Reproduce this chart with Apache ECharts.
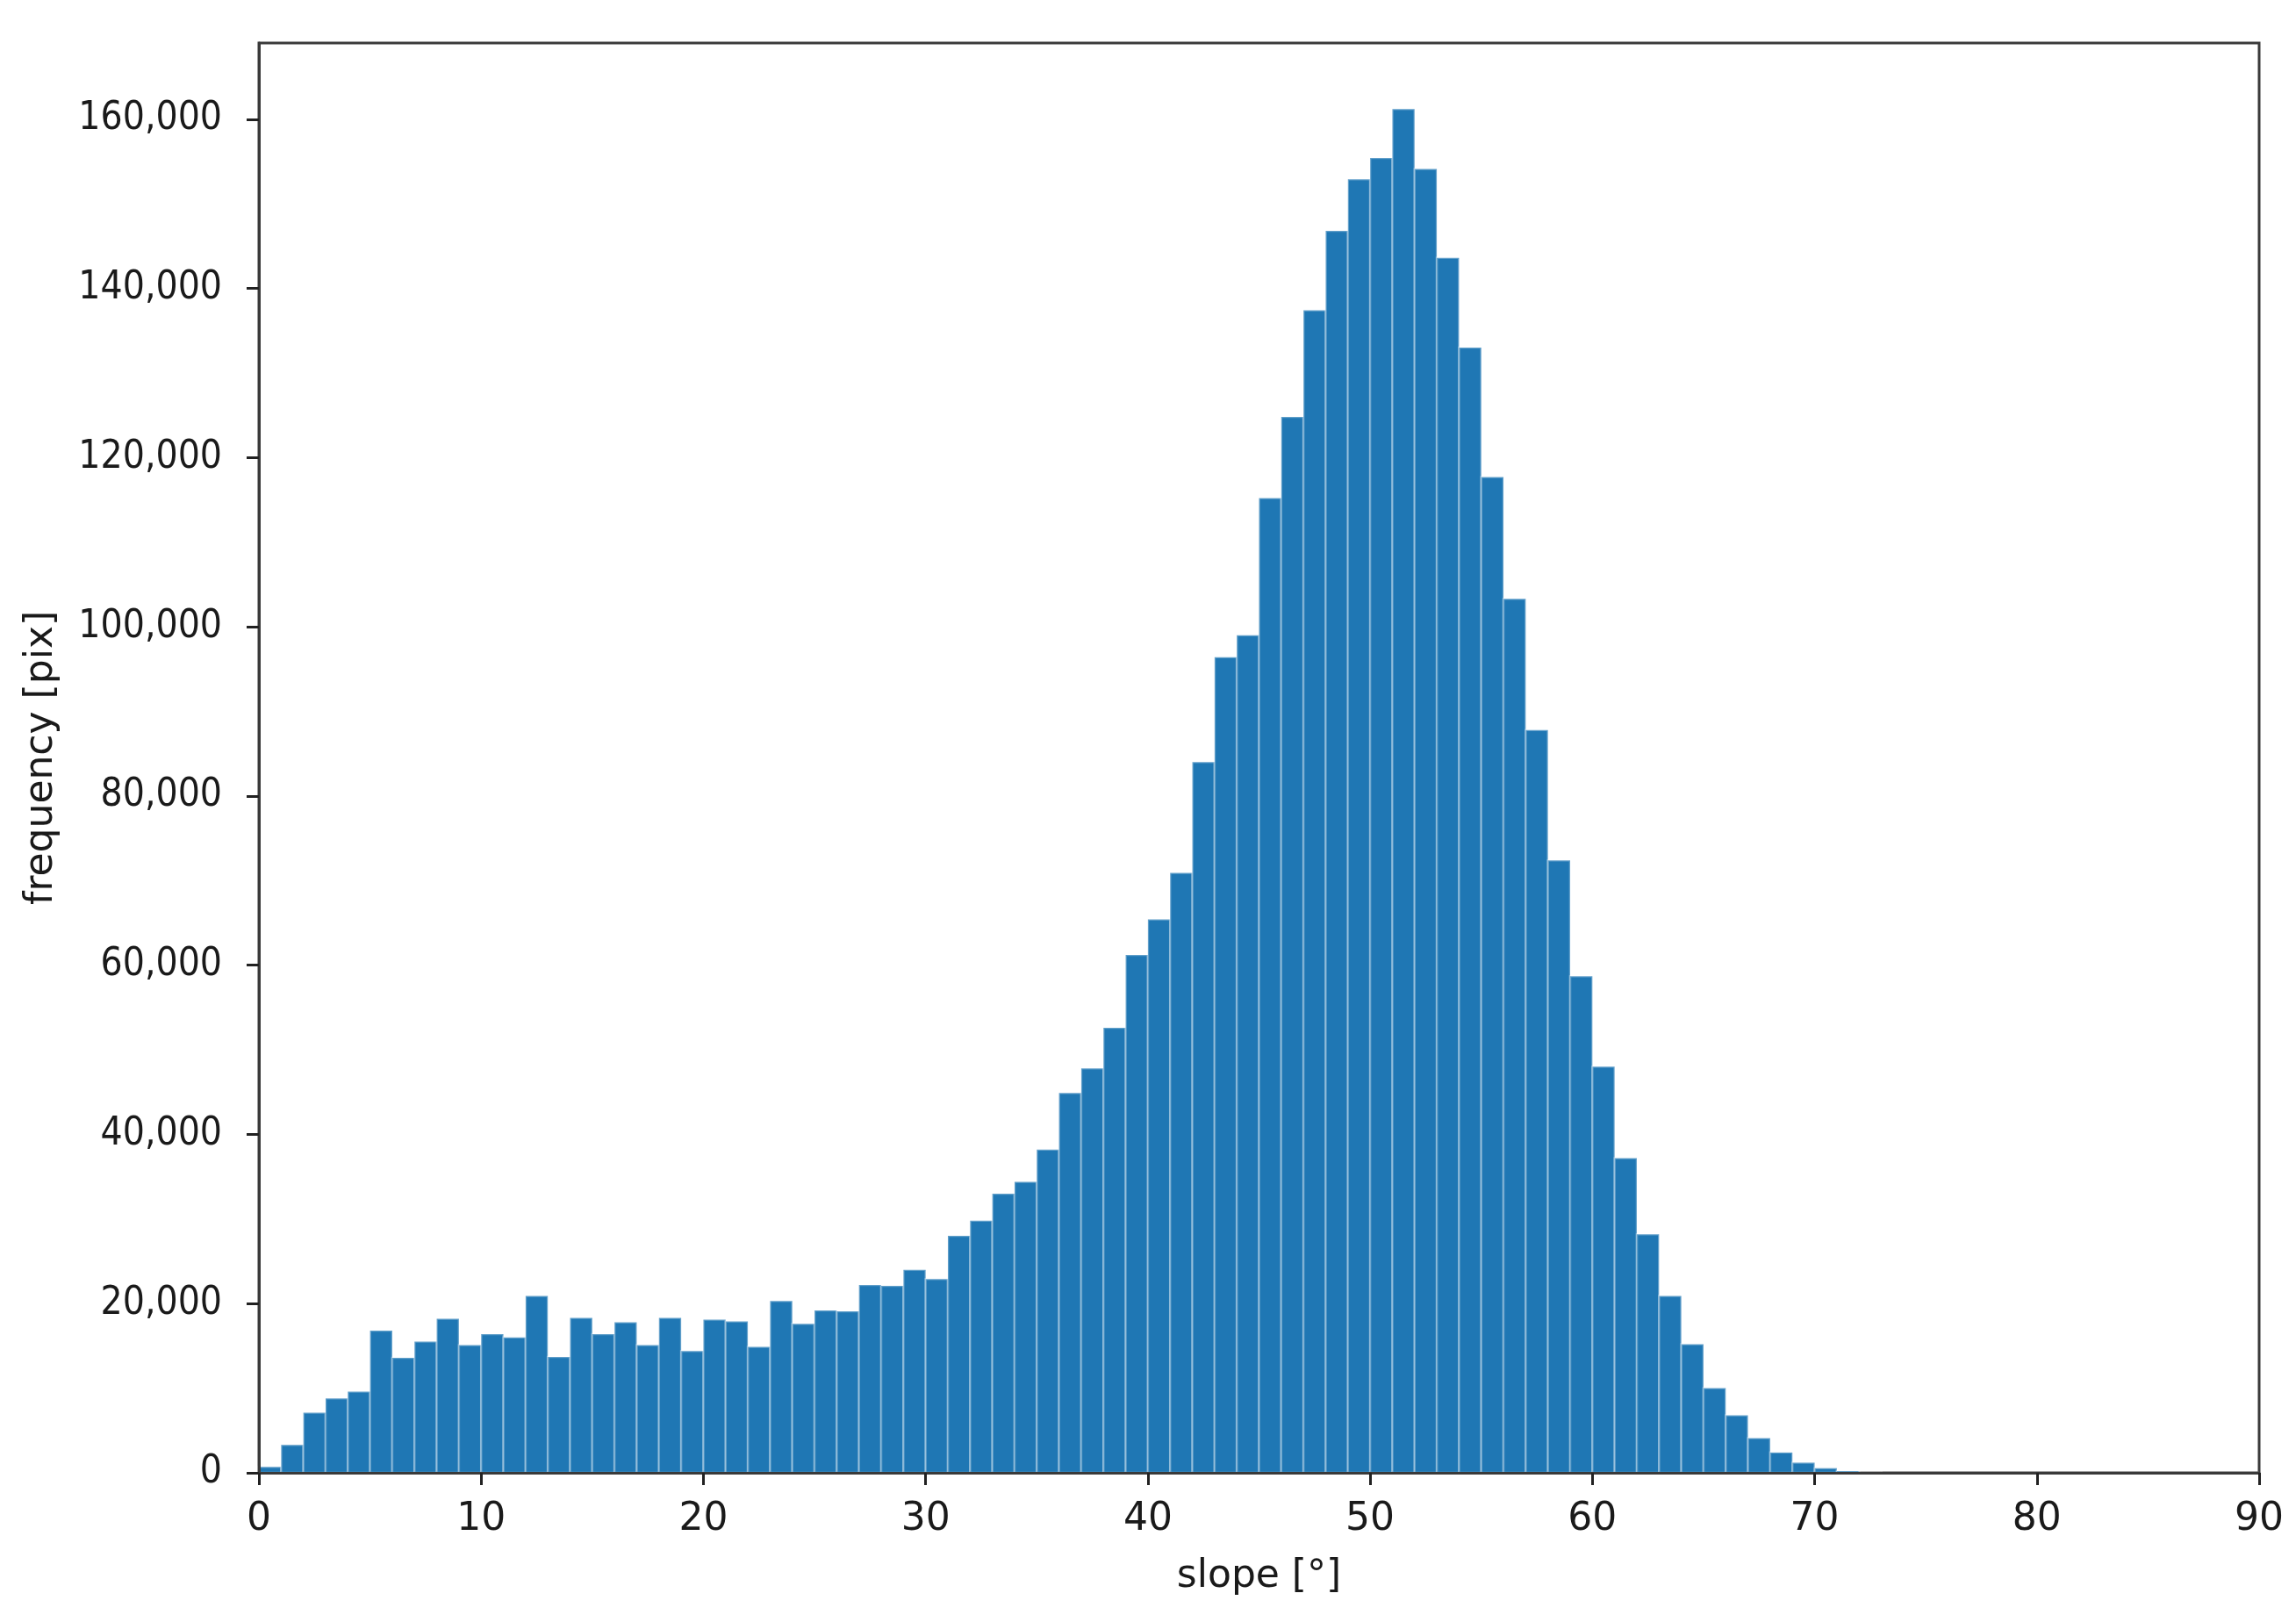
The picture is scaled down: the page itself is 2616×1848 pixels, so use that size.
<!DOCTYPE html>
<html>
<head>
<meta charset="utf-8">
<title>slope histogram</title>
<script src="https://cdn.jsdelivr.net/npm/echarts@6/dist/echarts.min.js"></script>
<style>
  html, body { margin: 0; padding: 0; background: #fff; }
  #main { width: 2616px; height: 1848px; }
</style>
</head>
<body>
<div id="main"></div>
<script>
// histogram of slope, 1 degree bins starting at 0
var binWidth = 1;
var counts = [
  700, 3300, 7100, 8800, 9600, 16800, 13600, 15500, 18200, 15100,
  16400, 16000, 20900, 13700, 18300, 16400, 17800, 15100, 18300, 14400,
  18100, 17900, 14900, 20300, 17600, 19200, 19100, 22200, 22100, 24000,
  22900, 28000, 29800, 33000, 34400, 38200, 44900, 47800, 52600, 61200,
  65400, 70900, 84000, 96400, 99000, 115200, 124800, 137400, 146800, 152900,
  155400, 161200, 154100, 143600, 133000, 117700, 103300, 87800, 72400, 58700,
  48000, 37200, 28200, 20900, 15200, 10000, 6800, 4100, 2400, 1200,
  550, 200, 60, 0, 0, 0, 0, 0, 0, 0,
  0, 0, 0, 0, 0, 0, 0, 0, 0, 0
];
var xTicks = [0, 10, 20, 30, 40, 50, 60, 70, 80, 90];
var yTicks = [0, 20000, 40000, 60000, 80000, 100000, 120000, 140000, 160000];

var chart = echarts.init(document.getElementById('main'), null, { renderer: 'canvas' });

var barData = counts.map(function (c, i) {
  return [i * binWidth, (i + 1) * binWidth, c];
});

function renderBar(params, api) {
  var p0 = api.coord([api.value(0), 0]);
  var p1 = api.coord([api.value(1), api.value(2)]);
  return {
    type: 'rect',
    shape: { x: p0[0], y: p1[1], width: p1[0] - p0[0], height: p0[1] - p1[1] },
    style: { fill: '#1f77b4', stroke: 'rgba(255,255,255,0.3)', lineWidth: 2.5 }
  };
}

var textColor = '#1a1a1a';
var frameColor = '#3a3a3a';

var option = {
  backgroundColor: '#fff',
  animation: false,
  grid: {
    left: 295, right: 42, top: 49, bottom: 170,
    show: true, borderColor: frameColor, borderWidth: 3, backgroundColor: 'transparent'
  },
  xAxis: {
    type: 'value',
    min: 0, max: 90, interval: 10,
    z: 10,
    name: 'slope [°]',
    nameLocation: 'middle',
    nameGap: 97,
    nameTextStyle: { fontFamily: 'DejaVu Sans', fontSize: 44, color: textColor },
    axisLine: { show: true, onZero: false, lineStyle: { color: frameColor, width: 3 } },
    axisTick: { show: true, length: 14, lineStyle: { color: '#222', width: 3 }, customValues: xTicks },
    axisLabel: { margin: 32, fontFamily: 'DejaVu Sans', fontSize: 44, color: textColor, customValues: xTicks },
    splitLine: { show: false }
  },
  yAxis: {
    type: 'value',
    min: 0, max: 169000,
    z: 10,
    name: 'frequency [pix]',
    nameLocation: 'middle',
    nameGap: 225,
    nameTextStyle: { fontFamily: 'DejaVu Sans', fontSize: 44, color: textColor },
    axisLine: { show: true, onZero: false, lineStyle: { color: frameColor, width: 3 } },
    axisTick: { show: true, length: 14, lineStyle: { color: '#222', width: 3 }, customValues: yTicks },
    axisLabel: {
      margin: 42,
      fontFamily: '"DejaVu Sans Condensed", "Liberation Sans", sans-serif',
      fontSize: 44,
      color: textColor,
      customValues: yTicks,
      formatter: function (v) { return v.toLocaleString('en-US'); }
    },
    splitLine: { show: false }
  },
  series: [{
    type: 'custom',
    renderItem: renderBar,
    encode: { x: [0, 1], y: 2 },
    data: barData,
    z: 2
  }]
};

chart.setOption(option);
</script>
</body>
</html>
